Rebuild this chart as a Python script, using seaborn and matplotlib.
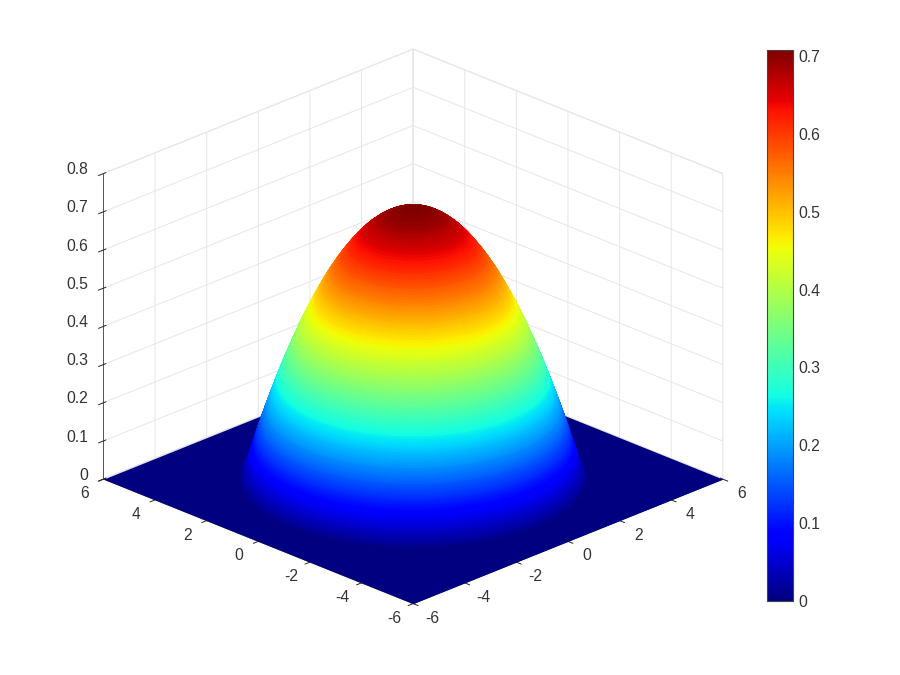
import numpy as np
import matplotlib
matplotlib.use('Agg')
import matplotlib.pyplot as plt
import seaborn as sns
from mpl_toolkits.mplot3d import proj3d

# radial profile of the dome
radius = [0, .30, .43, .61, .75, .86, .97, 1.06, 1.14, 1.22, 1.30, 1.37, 1.43, 1.50, 1.56, 1.62,
          1.67, 1.73, 1.78, 1.83, 1.88, 1.93, 1.98, 2.03, 2.07, 2.12, 2.16, 2.20, 2.24, 2.29,
          2.33, 2.37, 2.41, 2.44, 2.48, 2.52, 2.56, 2.59, 2.63, 2.66, 2.70, 2.73, 2.77, 2.80,
          2.83, 2.87, 2.90, 2.93, 2.96, 2.99, 3.02, 3.06, 3.09, 3.12, 3.15, 3.18, 3.20, 3.23,
          3.26, 3.29, 3.32, 3.35, 3.37, 3.40, 3.43, 3.46, 3.48, 3.51, 3.54, 3.57, 3.59, 3.62,
          3.64, 3.67, 3.69, 3.72, 3.74, 3.77, 3.79, 3.82, 3.84, 3.86, 3.89, 3.91, 3.94, 3.96,
          3.98, 4.01, 4.03, 4.05, 4.08, 4.10, 4.12, 4.14, 4.17, 4.19, 4.21, 4.23, 4.25, 4.28,
          4.30, 4.32, 4.34, 4.36, 4.38, 4.41, 4.43, 4.45, 4.47, 4.49, 4.51, 4.53, 4.55, 4.58,
          4.61, 4.64, 4.67, 4.70, 4.72, 4.74, 4.76]
height = [.707, .704, .701, .695, .689, .683, .677, .671, .665, .659, .653, .647, .641, .635, .629, .623,
          .617, .611, .605, .599, .593, .587, .581, .575, .569, .563, .557, .551, .545, .539,
          .533, .527, .521, .515, .509, .503, .497, .491, .485, .479, .473, .467, .461, .455,
          .449, .443, .437, .431, .425, .419, .413, .407, .401, .395, .389, .383, .377, .371,
          .365, .359, .353, .347, .341, .335, .329, .323, .317, .311, .305, .299, .293, .287,
          .281, .275, .269, .263, .257, .251, .245, .239, .233, .227, .221, .215, .209, .203,
          .197, .191, .185, .179, .173, .167, .161, .155, .149, .143, .137, .131, .125, .119,
          .113, .107, .101, .095, .089, .083, .077, .071, .065, .059, .053, .047, .041, .035,
          .029, .023, .017, .011, .005, .002, 0]
floor_edges = [-6, 6]
xy_ticks = [-6, -4, -2, 0, 2, 4, 6]
xy_labels = ['-6', '-4', '-2', '0', '2', '4', '6']
z_ticks = [0, .1, .2, .3, .4, .5, .6, .7, .8]
z_labels = ['0', '0.1', '0.2', '0.3', '0.4', '0.5', '0.6', '0.7', '0.8']
cbar_ticks = [0, .1, .2, .3, .4, .5, .6, .7]
cbar_labels = ['0', '0.1', '0.2', '0.3', '0.4', '0.5', '0.6', '0.7']
zmax = 0.7077

sns.set_theme(style='white')
plt.rcParams['font.family'] = ['Liberation Sans', 'DejaVu Sans']
text_color = '#333333'
label_size = 11.3
jet = matplotlib.colormaps['jet']
norm = matplotlib.colors.Normalize(0, zmax)

fig = plt.figure(figsize=(9, 6.75), dpi=100)
ax = fig.add_axes([0.0739, 0.003, 0.75, 1.0], projection='3d', computed_zorder=False)
ax.set_proj_type('ortho')
ax.view_init(elev=23.7, azim=-135)
ax.set_box_aspect((1, 1, 0.762), zoom=1.0118)

# navy floor under the dome
fx, fy = np.meshgrid(floor_edges, floor_edges)
ax.plot_surface(fx, fy, np.zeros_like(fx, dtype=float), color=jet(0.0), shade=False,
                linewidth=0, zorder=1)

# dome on a polar mesh
theta = np.linspace(0, 2 * np.pi, 181)
rr, tt = np.meshgrid(radius, theta)
zz, _ = np.meshgrid(height, theta)
ax.plot_surface(rr * np.cos(tt), rr * np.sin(tt), zz, facecolors=jet(norm(zz)),
                rstride=1, cstride=1, shade=False, linewidth=0.8,
                antialiased=True, zorder=2)

ax.set_xlim(-6, 6)
ax.set_ylim(-6, 6)
ax.set_zlim(0, 0.8)
ax.set_xticks(xy_ticks)
ax.set_yticks(xy_ticks)
ax.set_zticks(z_ticks)
ax.set_xticklabels([])
ax.set_yticklabels([])
ax.set_zticklabels([])

for axis in (ax.xaxis, ax.yaxis, ax.zaxis):
    axis.set_pane_color((1, 1, 1, 1))
    axis.pane.set_edgecolor('#e6e6e6')
    axis.pane.set_linewidth(0.7)
    axis.line.set_color('#555555')
    axis.line.set_linewidth(0.7)
    axis._axinfo['grid'].update(color='#e6e6e6', linewidth=0.7)
    axis._axinfo['tick'].update(color='#555555', linewidth={True: 0.7, False: 0.7})
ax.grid(True)


def put_label(x, y, z, lab, ha='center'):
    # matlab-style label placement, mplot3d pushes them too far down otherwise
    px, py, _ = proj3d.proj_transform(x, y, z, ax.get_proj())
    ax.text2D(px, py, lab, ha=ha, va='center', size=label_size, color=text_color, zorder=5)


for t, lab in zip(xy_ticks, xy_labels):
    put_label(t, -6.74, -0.018, lab)
    put_label(-6.74, t, -0.018, lab)
for t, lab in zip(z_ticks, z_labels):
    put_label(-6.3, 6.3, t + 0.01, lab, ha='right')

cax = fig.add_axes([767 / 900, 1 - 601 / 675, 26 / 900, 551 / 675])
cbar = fig.colorbar(matplotlib.cm.ScalarMappable(norm=norm, cmap=jet), cax=cax)
cbar.set_ticks(cbar_ticks, labels=cbar_labels)
cbar.ax.tick_params(direction='in', length=5, width=0.6, labelsize=label_size, labelcolor=text_color,
                    color='#333333', pad=4)
cbar.outline.set_edgecolor('#444444')
cbar.outline.set_linewidth(0.8)

fig.savefig('out.png', dpi=100)
